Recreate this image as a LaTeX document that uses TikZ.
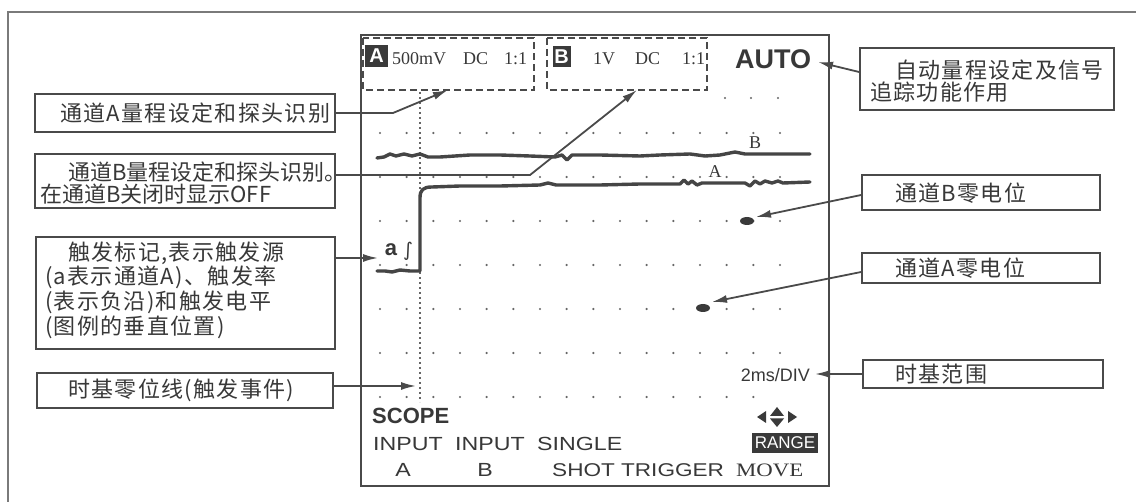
\documentclass[tikz,border=0pt]{standalone}
\usepackage{fontspec}
\setmainfont{Liberation Serif}
\newfontfamily\cjk[LetterSpace=6]{Noto Sans CJK SC}
\newfontfamily\cjkn{Noto Sans CJK SC}
\newfontfamily\ssf{Liberation Sans}
\newfontfamily\djv{DejaVu Sans}
\newfontfamily\wsf[FakeStretch=1.22]{Liberation Sans}
\newfontfamily\wrm[FakeStretch=1.2]{Liberation Serif}
\usetikzlibrary{arrows.meta,calc}
\definecolor{lc}{HTML}{4A4A4A}
\definecolor{tc}{HTML}{383838}
\definecolor{dk}{HTML}{3A3A3A}
\definecolor{fr}{HTML}{7A7A7A}
\definecolor{dotc}{HTML}{666666}
\definecolor{trc}{HTML}{454545}
\tikzset{
  box/.style={draw=lc, line width=1.8pt, inner sep=0pt},
  cj/.style={font=\cjk\fontsize{22}{23}\selectfont, text=tc, inner sep=0pt, anchor=west, align=left},
  arr/.style={draw=lc, line width=1.8pt, -{Latex[length=15pt,width=8pt]}},
  trace/.style={draw=trc, line width=3.4pt, line join=round, line cap=round},
  scr/.style={text=tc, inner sep=0pt},
  dbox/.style={draw=lc, line width=1.8pt, dash pattern=on 7pt off 4pt},
  inv/.style={fill=dk, text=white, inner sep=0pt},
}
\begin{document}
\begin{tikzpicture}[x=1pt,y=-1pt]
\useasboundingbox (0,0) rectangle (1136,502);
\fill[white] (0,0) rectangle (1136,502);
% outer frame (top and left edges)
\draw[fr, line width=1.5pt] (1136,12) -- (8,12) -- (8,502);
% screen
\draw[lc, line width=1.8pt] (361,35) rectangle (829,486);
% grid dots
\foreach \yy in {133,177,221,265,309,353} {
  \foreach \i in {0,...,15} { \fill[dotc] ({380+26.667*\i},\yy) circle (1.2); }
}
\foreach \i in {0,...,14} { \fill[dotc] ({380+26.667*\i},397) circle (1.2); }
\foreach \xx in {725,751,778} { \fill[dotc] (\xx,98) circle (1.2); }
% dotted time-zero line
\draw[dotc, line width=2pt, dash pattern=on 1.6pt off 3.4pt] (420,92) -- (420,402);
% dashed channel boxes
\draw[dbox] (363,38) rectangle (534,90);
\draw[dbox] (547,38) rectangle (707,90);
% channel A header
\node[inv, minimum width=23pt, minimum height=22pt, font=\ssf\bfseries\fontsize{20}{20}\selectfont] (hA) at (376.5,56) {A};
\node[scr, anchor=base west, font=\rmfamily\fontsize{18}{18}\selectfont] (hA1) at (392,65) {500mV};
\node[scr, anchor=base west, font=\rmfamily\fontsize{18}{18}\selectfont] (hA2) at (463,65) {DC};
\node[scr, anchor=base west, font=\rmfamily\fontsize{18}{18}\selectfont] (hA3) at (504,65) {1:1};
% channel B header
\node[inv, minimum width=18pt, minimum height=21pt, font=\ssf\bfseries\fontsize{20}{20}\selectfont] (hB) at (561.5,56.5) {B};
\node[scr, anchor=base west, font=\rmfamily\fontsize{18}{18}\selectfont] (hB1) at (593,65) {1V};
\node[scr, anchor=base west, font=\rmfamily\fontsize{18}{18}\selectfont] (hB2) at (635,65) {DC};
\node[scr, anchor=base west, font=\rmfamily\fontsize{18}{18}\selectfont] (hB3) at (682,65) {1:1};
\node[scr, anchor=base west, font=\ssf\bfseries\fontsize{27}{27}\selectfont] (auto) at (735,69) {AUTO};
% traces
\draw[trace] (377,158) -- (384,157) -- (390,154) -- (396,156) -- (404,154) -- (412,156) -- (420,154) -- (428,157) -- (440,157) -- (455,156) -- (470,155) -- (500,155) -- (530,156) -- (555,157) -- (562,155) -- (567,160) -- (572,155) -- (600,155) -- (640,156) -- (660,155) -- (690,154) -- (705,156) -- (720,155) -- (735,152) -- (745,154) -- (770,154) -- (810,154);
\draw[trace] (377,271) -- (385,271) -- (392,272) -- (400,270) -- (410,271) -- (420,271) -- (420,198) .. controls (420,190) and (423,187) .. (432,187) -- (460,186) -- (500,186) -- (540,185) -- (548,183) -- (556,185) -- (600,185) -- (640,184) -- (680,184) -- (684,180) -- (688,184) -- (692,181) -- (697,185) -- (702,183) -- (745,183) -- (750,186) -- (755,181) -- (760,184) -- (765,181) -- (772,183) -- (778,181) -- (783,183) -- (810,182);
\node[scr, font=\rmfamily\fontsize{18}{18}\selectfont] (lB) at (755,143) {B};
\node[scr, font=\rmfamily\fontsize{18}{18}\selectfont] (lA) at (715,172) {A};
% zero markers
\fill[dk] (747,221) ellipse (7 and 4);
\fill[dk] (703,308) ellipse (7 and 4);
% trigger mark
\node[scr, anchor=base, font=\ssf\bfseries\fontsize{22}{22}\selectfont] (ta) at (391,256) {a};
\node[scr, font=\djv\fontsize{19}{19}\selectfont] (tint) at (408,251) {∫};
% timebase
\node[scr, anchor=base east, font=\ssf\fontsize{18}{18}\selectfont] (tb) at (810,382) {2ms/DIV};
% move arrows
\fill[dk] (766,411) -- (757,417) -- (766,423) -- cycle;
\fill[dk] (770,416) -- (777,407) -- (784,416) -- cycle;
\fill[dk] (770,418.5) -- (784,418.5) -- (777,427) -- cycle;
\fill[dk] (788,411) -- (797,417) -- (788,423) -- cycle;
\node[inv, minimum width=66pt, minimum height=20pt, font=\ssf\fontsize{17}{17}\selectfont] (rng) at (785,443) {RANGE};
% softkey labels
\node[scr, anchor=base west, font=\ssf\bfseries\fontsize{22}{22}\selectfont] (sc) at (372,424) {SCOPE};
\node[scr, anchor=base west, font=\wsf\fontsize{19}{19}\selectfont] (k1) at (373,451) {INPUT};
\node[scr, anchor=base west, font=\wsf\fontsize{19}{19}\selectfont] (k2) at (455,451) {INPUT};
\node[scr, anchor=base west, font=\wsf\fontsize{19}{19}\selectfont] (k3) at (537,451) {SINGLE};
\node[scr, anchor=base, font=\wsf\fontsize{19}{19}\selectfont] (k4) at (403,477) {A};
\node[scr, anchor=base, font=\wsf\fontsize{19}{19}\selectfont] (k5) at (485,477) {B};
\node[scr, anchor=base west, font=\wsf\fontsize{18.5}{18.5}\selectfont] (k6) at (552,477) {SHOT TRIGGER};
\node[scr, anchor=base west, font=\wrm\fontsize{19}{19}\selectfont] (k7) at (736,477) {MOVE};
% callout boxes
\node[box, minimum width=300pt, minimum height=38pt] (b1) at (185,113) {};
\node[box, minimum width=300pt, minimum height=54pt] (b2) at (185,181) {};
\node[box, minimum width=299pt, minimum height=112pt] (b3) at (185.5,293) {};
\node[box, minimum width=296pt, minimum height=35pt] (b4) at (185,390.5) {};
\node[box, minimum width=254pt, minimum height=62pt] (b5) at (987,79) {};
\node[box, minimum width=238pt, minimum height=35pt] (b6) at (981,192.5) {};
\node[box, minimum width=238pt, minimum height=30pt] (b7) at (981,268) {};
\node[box, minimum width=240pt, minimum height=28pt] (b8) at (983,374) {};
% callout texts
\node[cj] (t1) at (60,113) {通道A量程设定和探头识别};
\node[cj, font=\cjkn\fontsize{22}{22}\selectfont] (t2) at (40,183) {\hspace*{28pt}通道B量程设定和探头识别。\\在通道B关闭时显示OFF};
\node[cj, font=\cjk\fontsize{22}{24.7}\selectfont] (t3) at (45,290) {\hspace*{23pt}触发标记,表示触发源\\(a表示通道A)、触发率\\(表示负沿)和触发电平\\(图例的垂直位置)};
\node[cj] (t4) at (68,390) {时基零位线(触发事件)};
\node[cj, font=\cjk\fontsize{22}{22}\selectfont] (t5) at (870,81) {\hspace*{25pt}自动量程设定及信号\\追踪功能作用};
\node[cj] (t6) at (895,193) {通道B零电位};
\node[cj] (t7) at (895,268) {通道A零电位};
\node[cj] (t8) at (895,374) {时基范围};
% connectors
\coordinate (tA) at (448,90);
\coordinate (kA) at (393,113);
\draw[arr] (b1.east) -- (kA) -- (tA);
\coordinate (tB) at (637,90);
\coordinate (kB) at (530,175);
\draw[arr] (kB -| b2.east) -- (kB) -- (tB);
\coordinate (tT) at (378,258);
\draw[arr] (tT -| b3.east) -- (tT);
\coordinate (tZ) at (416,386);
\draw[arr] (tZ -| b4.east) -- (tZ);
\coordinate (tAuto) at (818,62);
\draw[arr] ([yshift=7pt]b5.west) -- (tAuto);
\coordinate (tBz) at (756,217);
\draw[arr] ([yshift=-2.5pt]b6.west) -- (tBz);
\coordinate (tAz) at (712,302);
\draw[arr] ([yshift=-4pt]b7.west) -- (tAz);
\coordinate (tTb) at (815,374);
\draw[arr] (b8.west) -- (tTb);
\end{tikzpicture}
\end{document}
